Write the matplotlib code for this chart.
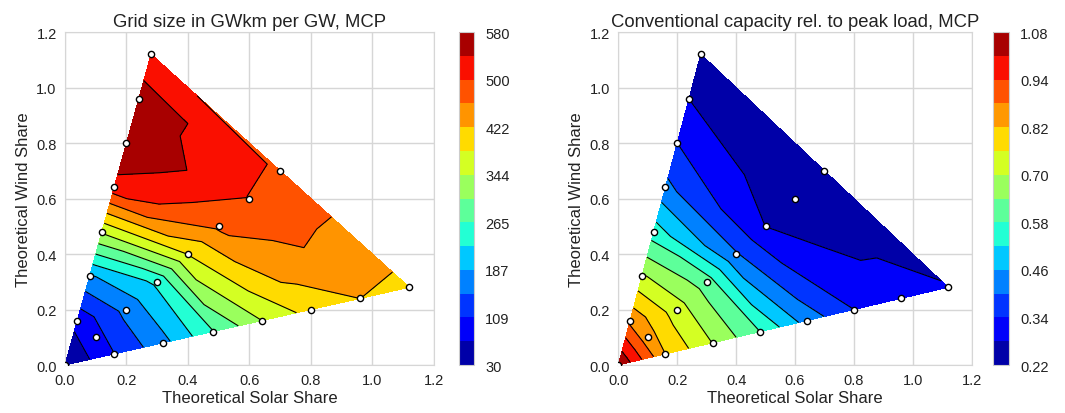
import numpy as np
import matplotlib
matplotlib.use("Agg")
import matplotlib.pyplot as plt
import matplotlib.tri as mtri

plt.rcParams['font.family'] = ['Liberation Sans', 'DejaVu Sans']

# simulation points (theoretical solar / wind share)
solar = [0.00, 0.04, 0.10, 0.16, 0.08, 0.20, 0.32, 0.12, 0.30, 0.48, 0.16,
         0.40, 0.64, 0.20, 0.50, 0.80, 0.24, 0.60, 0.96, 0.28, 0.70, 1.12]
wind = [0.00, 0.16, 0.10, 0.04, 0.32, 0.20, 0.08, 0.48, 0.30, 0.12, 0.64,
        0.40, 0.16, 0.80, 0.50, 0.20, 0.96, 0.60, 0.24, 1.12, 0.70, 0.28]

# grid size in GWkm per GW
grid_size = [30, 82, 95, 108, 182, 160, 175, 350, 235, 262, 525,
             385, 344, 580, 470, 400, 565, 500, 423, 505, 495, 412]
# conventional capacity relative to peak load
conv_cap = [1.08, 0.88, 0.86, 0.834, 0.72, 0.74, 0.71, 0.557, 0.62, 0.59, 0.42,
            0.41, 0.44, 0.343, 0.281, 0.343, 0.281, 0.235, 0.31, 0.24, 0.22, 0.285]

grid_ticklabels = ['30', '109', '187', '265', '344', '422', '500', '580']
conv_ticklabels = ['0.22', '0.34', '0.46', '0.58', '0.70', '0.82', '0.94', '1.08']

titles = ['Grid size in GWkm per GW, MCP',
          'Conventional capacity rel. to peak load, MCP']

fig = plt.figure(figsize=(10.65, 4.14), dpi=100)
ax_pos = [[0.0610, 0.1159, 0.3465, 0.8043], [0.5806, 0.1159, 0.3318, 0.8043]]
cb_pos = [[0.4310, 0.1159, 0.0141, 0.8043], [0.9324, 0.1159, 0.0150, 0.8043]]

tri = mtri.Triangulation(solar, wind)
gridc = '#d6d6d6'

for i, (vals, ticklabels) in enumerate([(grid_size, grid_ticklabels),
                                        (conv_cap, conv_ticklabels)]):
    ax = fig.add_axes(ax_pos[i])
    cax = fig.add_axes(cb_pos[i])
    levels = np.linspace(min(vals), max(vals), 15)
    cs = ax.tricontourf(tri, vals, levels=levels, cmap='jet', zorder=2)
    ax.tricontour(tri, vals, levels=levels[1:-1], colors='k', linewidths=0.8, zorder=3)
    ax.scatter(solar, wind, s=20, c='white', edgecolors='k', linewidths=1.0, zorder=4)

    ax.set_xlim(0, 1.2)
    ax.set_ylim(0, 1.2)
    ticks = np.arange(0, 1.21, 0.2)
    ax.set_xticks(ticks)
    ax.set_yticks(ticks)
    ax.set_xticklabels(['%.1f' % t for t in ticks])
    ax.set_yticklabels(['%.1f' % t for t in ticks])
    ax.grid(True, color=gridc, linewidth=1, zorder=0)
    ax.set_axisbelow(True)
    ax.tick_params(length=0, labelsize=10.5, pad=6, colors='#222222')
    for sp in ax.spines.values():
        sp.set_color(gridc)
    ax.set_xlabel('Theoretical Solar Share', fontsize=12, labelpad=2, color='#222222')
    ax.set_ylabel('Theoretical Wind Share', fontsize=12, labelpad=4, color='#222222')
    ax.set_title(titles[i], fontsize=13.3, pad=4, color='#222222')

    cb = fig.colorbar(cs, cax=cax)
    cb.set_ticks(levels[::2])
    cb.set_ticklabels(ticklabels)
    cb.ax.tick_params(length=0, labelsize=10.5, pad=8, colors='#222222')
    cb.outline.set_edgecolor('#cccccc')

fig.savefig('out.png', dpi=100)
